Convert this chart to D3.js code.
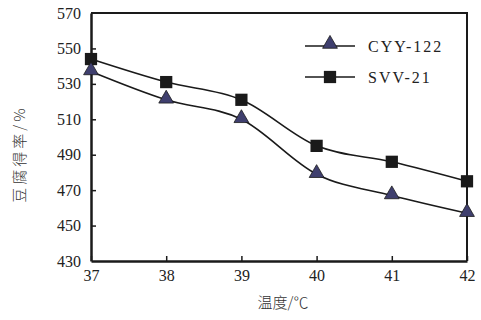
<!DOCTYPE html>
<html>
<head>
<meta charset="utf-8">
<script src="https://cdn.jsdelivr.net/npm/d3@7"></script>
<style>
  body { margin: 0; background: #fff; }
  svg { display: block; }
  .tick text { font-family: "Liberation Serif", "DejaVu Serif", serif; font-size: 16px; fill: #222; }
</style>
</head>
<body>
<svg id="chart" width="481" height="320"></svg>
<script>
const temps = [37, 38, 39, 40, 41, 42];
const cyy122 = [537, 521, 510, 479, 467, 457];
const svv21 = [544, 531, 521, 495, 486, 475];
const yTicks = [430, 450, 470, 490, 510, 530, 550, 570];
const seriesNames = ['CYY-122', 'SVV-21'];

const MARGINS = { top: 13, bottom: 59, left: 91, right: 14 };
const svg = d3.select('#chart');
const width = 481 - MARGINS.left - MARGINS.right;
const height = 320 - MARGINS.top - MARGINS.bottom;

const x = d3.scaleLinear().domain([37, 42]).range([MARGINS.left, MARGINS.left + width]);
const y = d3.scaleLinear().domain([430, 570]).range([MARGINS.top + height, MARGINS.top]);

const ink = '#1a1a1a';
const triFill = '#3f3f6e';

// frame top/right
svg.append('path')
  .attr('d', `M${x(37)},${y(570)}H${x(42)}V${y(430)}`)
  .attr('fill', 'none').attr('stroke', ink).attr('stroke-width', 2);

const axisX = svg.append('g')
  .attr('transform', `translate(0,${y(430)})`)
  .call(d3.axisBottom(x).tickValues(temps).tickFormat(d3.format('d')).tickSizeInner(-5).tickSizeOuter(0).tickPadding(9));
axisX.select('.domain').attr('stroke', ink).attr('stroke-width', 2.5);
axisX.selectAll('line').attr('stroke', ink).attr('stroke-width', 1.5);

const axisY = svg.append('g')
  .attr('transform', `translate(${x(37)},0)`)
  .call(d3.axisLeft(y).tickValues(yTicks).tickSizeInner(-5).tickSizeOuter(0).tickPadding(10));
axisY.select('.domain').attr('stroke', ink).attr('stroke-width', 2.5);
axisY.selectAll('line').attr('stroke', ink).attr('stroke-width', 1.5);
axisY.selectAll('.tick').filter(d => d === 430 || d === 570).select('line').remove();

const line = d3.line()
  .x((d, i) => x(temps[i]))
  .y(d => y(d))
  .curve(d3.curveMonotoneX);

[cyy122, svv21].forEach(vals => {
  svg.append('path')
    .attr('d', line(vals))
    .attr('fill', 'none').attr('stroke', ink).attr('stroke-width', 1.6);
});

const tri = d3.symbol().type(d3.symbolTriangle).size(95);
const sq = d3.symbol().type(d3.symbolSquare).size(150);

svg.append('g').selectAll('path')
  .data(svv21)
  .join('path')
  .attr('transform', (d, i) => `translate(${x(temps[i])},${y(d)})`)
  .attr('d', sq)
  .attr('fill', ink);

svg.append('g').selectAll('path')
  .data(cyy122)
  .join('path')
  .attr('transform', (d, i) => `translate(${x(temps[i])},${y(d) - 1})`)
  .attr('d', tri)
  .attr('fill', triFill).attr('stroke', ink).attr('stroke-width', 0.8);

// legend
const legend = svg.append('g').attr('transform', 'translate(305,46)');
seriesNames.forEach((name, i) => {
  const g = legend.append('g').attr('transform', `translate(0,${i * 31})`);
  g.append('line').attr('x1', 0).attr('x2', 50).attr('stroke', ink).attr('stroke-width', 1.6);
  g.append('path')
    .attr('transform', i === 0 ? 'translate(25,-2)' : 'translate(25,0)')
    .attr('d', i === 0 ? tri : sq)
    .attr('fill', i === 0 ? triFill : ink)
    .attr('stroke', i === 0 ? ink : 'none').attr('stroke-width', 0.8);
  g.append('text')
    .attr('x', 63).attr('y', 6)
    .attr('font-family', '"Liberation Serif", serif').attr('font-size', 16).attr('fill', '#222')
    .attr('letter-spacing', 2)
    .text(name);
});

svg.append('text')
  .attr('x', 283).attr('y', 308)
  .attr('text-anchor', 'middle')
  .attr('font-family', '"Noto Sans CJK SC", serif').attr('font-size', 15).attr('font-weight', 300).attr('fill', '#333')
  .text('温度/℃');

svg.append('text')
  .attr('transform', 'translate(25,154) rotate(-90)')
  .attr('text-anchor', 'middle')
  .attr('font-family', '"Noto Sans CJK SC", serif').attr('font-size', 15).attr('font-weight', 300).attr('fill', '#333')
  .attr('letter-spacing', 3)
  .text('豆腐得率/%');
</script>
</body>
</html>
